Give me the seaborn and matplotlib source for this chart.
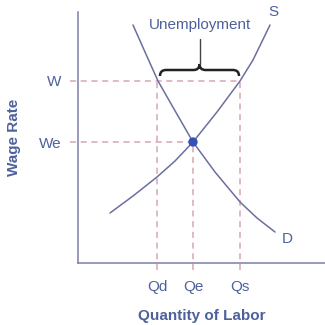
import numpy as np
import matplotlib
matplotlib.use("Agg")
import matplotlib.pyplot as plt
import seaborn as sns
from matplotlib.path import Path
from matplotlib.patches import PathPatch

# ============================================================
# DATA (axis units)
# ============================================================

demand_x = [55, 67, 80, 96, 115, 137, 162, 179, 197]
demand_y = [238, 211, 182, 154, 121, 91, 61, 45, 31]

supply_x = [32, 55, 79, 97, 115, 139, 162, 175, 192]
supply_y = [50, 67, 86, 102, 121, 151, 182, 203, 238]

wage_levels = [182, 121]
wage_labels = ["W", "We"]

qty_levels = [79, 115, 162]
qty_labels = ["Qd", "Qe", "Qs"]

equilibrium = (115, 121)

# ============================================================
# STYLE
# ============================================================

sns.set_style("white")
plt.rcParams["font.family"] = ["Liberation Sans", "DejaVu Sans"]

text_blue = "#4d619c"
curve_col = "#6b6f9e"
axis_col = "#7b80a6"
dash_col = "#d8a6b8"

fig = plt.figure(figsize=(3.25, 3.25), dpi=100)
ax = fig.add_axes([78 / 325, 62 / 325, 247 / 325, 251 / 325])
ax.set_xlim(0, 247)
ax.set_ylim(0, 251)

for s in ["top", "right"]:
    ax.spines[s].set_visible(False)
for s in ["left", "bottom"]:
    ax.spines[s].set_color(axis_col)
    ax.spines[s].set_linewidth(1.1)

# dashed guide lines
W, We = wage_levels
Qd, Qe, Qs = qty_levels
dash = dict(ls=(0, (4, 3)), color=dash_col, lw=1.1, clip_on=False)
ax.plot([-8, Qs], [W, W], **dash)
ax.plot([-8, Qe], [We, We], **dash)
ax.plot([Qd, Qd], [-7, W], **dash)
ax.plot([Qe, Qe], [-7, We], **dash)
ax.plot([Qs, Qs], [-7, W], **dash)

# curves
sns.lineplot(x=demand_x, y=demand_y, sort=False, estimator=None, color=curve_col, lw=1.1, ax=ax)
sns.lineplot(x=supply_x, y=supply_y, sort=False, estimator=None, color=curve_col, lw=1.1, ax=ax)

# equilibrium point
sns.scatterplot(x=[equilibrium[0]], y=[equilibrium[1]], color="#3352b5", s=45,
                edgecolor="none", zorder=5, ax=ax)

# brace for unemployment
x0, x1 = Qd + 3, Qs - 1
yb = W + 5
mid = (x0 + x1) / 2
h = 6
verts = [
    (x0, yb), (x0, yb + h), (x0 + 6, yb + h),
    (mid - 6, yb + h), (mid, yb + h), (mid, yb + 2 * h),
    (mid, yb + h), (mid + 6, yb + h),
    (x1 - 6, yb + h), (x1, yb + h), (x1, yb),
]
codes = [
    Path.MOVETO, Path.CURVE3, Path.CURVE3,
    Path.LINETO, Path.CURVE3, Path.CURVE3,
    Path.CURVE3, Path.CURVE3,
    Path.LINETO, Path.CURVE3, Path.CURVE3,
]
ax.add_patch(PathPatch(Path(verts, codes), fill=False, color="#222222", lw=1.8, clip_on=False))
ax.plot([mid, mid], [yb + 2 * h, 224], color="#444444", lw=1.0)

ax.text(mid, 238, "Unemployment", color=text_blue, fontsize=11, ha="center", va="center")
ax.text(195, 251, "S", color=text_blue, fontsize=11, ha="center", va="center", clip_on=False)
ax.text(209, 24, "D", color=text_blue, fontsize=11, ha="center", va="center")

# ticks
ax.set_yticks(wage_levels)
ax.set_yticklabels(wage_labels)
ax.set_xticks(qty_levels)
ax.set_xticklabels(qty_labels)
ax.tick_params(axis="y", length=0, pad=12, labelsize=11, labelcolor=text_blue)
ax.tick_params(axis="x", length=0, pad=12, labelsize=11, labelcolor=text_blue)

ax.set_xlabel("Quantity of Labor", color=text_blue, fontsize=11, fontweight="bold", labelpad=11)
ax.set_ylabel("Wage Rate", color=text_blue, fontsize=11, fontweight="bold", labelpad=13)

fig.savefig("out.png", dpi=100)
